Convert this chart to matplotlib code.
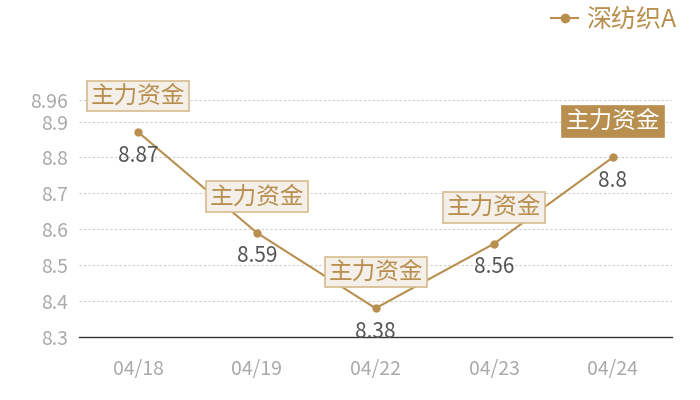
import matplotlib
matplotlib.use('Agg')
import matplotlib.pyplot as plt
from matplotlib.lines import Line2D

plt.rcParams['font.family'] = ['Noto Sans CJK SC', 'DejaVu Sans']

# data
dates = ['04/18', '04/19', '04/22', '04/23', '04/24']
values = [8.87, 8.59, 8.38, 8.56, 8.8]
tag = '主力资金'
series_name = '深纺织A'
yticks = [8.3, 8.4, 8.5, 8.6, 8.7, 8.8, 8.9, 8.96]

gold = '#b88f4e'

fig = plt.figure(figsize=(7, 4), dpi=100)
ax = fig.add_axes([0.113, 0.1575, 0.847, 0.5925])

x = list(range(len(dates)))
ax.plot(x, values, color=gold, lw=1.5, marker='o', ms=5, zorder=3)

ax.set_xlim(-0.5, len(dates) - 0.5)
ax.set_ylim(8.3, 8.96)
ax.set_yticks(yticks)
ax.set_yticklabels([f'{v:g}' for v in yticks])
ax.set_xticks(x)
ax.set_xticklabels(dates)
ax.tick_params(axis='both', length=0, colors='#aaaaaa', labelsize=14)
ax.tick_params(axis='x', pad=16)
ax.tick_params(axis='y', pad=8)

for v in yticks[1:]:
    ax.axhline(v, color='#cccccc', lw=0.8, ls=(0, (2, 2)), zorder=1)

for s in ['top', 'right', 'left']:
    ax.spines[s].set_visible(False)
ax.spines['bottom'].set_color('#333333')
ax.spines['bottom'].set_linewidth(1)

# value labels
for xi, v in zip(x, values):
    ax.annotate(f'{v:g}', (xi, v), xytext=(0, -17), textcoords='offset points',
                ha='center', va='center', fontsize=15, color='#555555', zorder=4)

# tag boxes; the last one is highlighted
for i, (xi, v) in enumerate(zip(x, values)):
    last = i == len(values) - 1
    ax.annotate(tag, (xi, v), xytext=(0, 26), textcoords='offset points',
                ha='center', va='center', fontsize=17,
                color='white' if last else gold,
                bbox=dict(boxstyle='square,pad=0.16',
                          fc=gold if last else '#f4efe8',
                          ec=gold if last else '#d6bc90', lw=1.2),
                zorder=5)

handle = Line2D([], [], color=gold, lw=1.5, marker='o', ms=6)
fig.legend([handle], [series_name], loc='upper right', bbox_to_anchor=(0.998, 1.04),
           frameon=False, fontsize=18, labelcolor=gold, handlelength=1.1,
           handletextpad=0.3)

fig.savefig('out.png', dpi=100)
